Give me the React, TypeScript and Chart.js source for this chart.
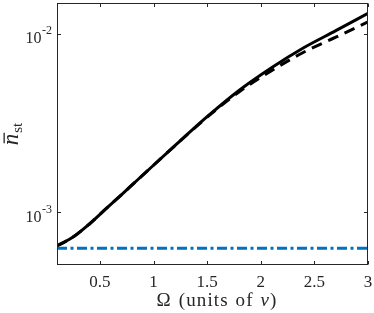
import React, { useEffect, useRef } from "react";
import { Chart, registerables } from "chart.js";

Chart.register(...registerables);

const omegaValues = [0.1, 0.25, 0.4, 0.55, 0.7, 0.85, 1.0, 1.2, 1.5, 1.8, 2.1, 2.4, 2.7, 3.0];
const solidSeries = [6.46e-4, 7.24e-4, 8.55e-4, 1.035e-3, 1.25e-3, 1.514e-3, 1.832e-3, 2.36e-3, 3.43e-3, 4.83e-3, 6.46e-3, 8.36e-3, 1.042e-2, 1.303e-2];
const dashedSeries = [6.46e-4, 7.24e-4, 8.55e-4, 1.035e-3, 1.25e-3, 1.514e-3, 1.832e-3, 2.36e-3, 3.41e-3, 4.74e-3, 6.21e-3, 7.89e-3, 9.58e-3, 1.167e-2];
const baselineOmega = [0.1, 3.0];
const baselineSeries = [6.28e-4, 6.28e-4];
const xTicks = [0.5, 1, 1.5, 2, 2.5, 3];
const xTickLabels = ["0.5", "1", "1.5", "2", "2.5", "3"];
const yTicks = [1e-3, 1e-2];
const yTickExponents = ["-3", "-2"];

const SERIF = "'Liberation Serif', 'Times New Roman', serif";
const AXIS_COLOR = "#262626";

const framePlugin = {
  id: "matlabFrame",
  afterDraw(chart: any) {
    const { ctx, chartArea } = chart;
    const xs = chart.scales.x;
    const ys = chart.scales.y;
    const L = Math.round(chartArea.left) + 0.5;
    const R = Math.round(chartArea.right) - 0.5;
    const T = Math.round(chartArea.top) + 0.5;
    const B = Math.round(chartArea.bottom) - 0.5;
    ctx.save();
    ctx.strokeStyle = AXIS_COLOR;
    ctx.lineWidth = 1;
    ctx.setLineDash([]);
    ctx.strokeRect(L, T, R - L, B - T);
    const tl = 3.5;
    ctx.beginPath();
    xTicks.forEach((v) => {
      const px = Math.round(xs.getPixelForValue(v)) + 0.5;
      ctx.moveTo(px, B);
      ctx.lineTo(px, B - tl);
      ctx.moveTo(px, T);
      ctx.lineTo(px, T + tl);
    });
    yTicks.forEach((v) => {
      const py = Math.round(ys.getPixelForValue(v)) + 0.5;
      ctx.moveTo(L, py);
      ctx.lineTo(L + tl, py);
      ctx.moveTo(R, py);
      ctx.lineTo(R - tl, py);
    });
    ctx.stroke();

    ctx.fillStyle = AXIS_COLOR;
    // x tick labels
    ctx.font = `17px ${SERIF}`;
    ctx.textAlign = "center";
    ctx.textBaseline = "alphabetic";
    xTicks.forEach((v, i) => {
      const px = xs.getPixelForValue(v);
      ctx.fillText(xTickLabels[i], px, chartArea.bottom + 22);
    });
    // y tick labels 10^e
    yTicks.forEach((v, i) => {
      const py = ys.getPixelForValue(v);
      ctx.font = `16px ${SERIF}`;
      ctx.textAlign = "right";
      ctx.fillText("10", 41.5, py + 9.5);
      ctx.font = `12px ${SERIF}`;
      ctx.textAlign = "left";
      ctx.fillText(yTickExponents[i], 42, py + 0.5);
    });

    // x axis label: Ω (units of ν)
    const cx = (chartArea.left + chartArea.right) / 2 + 4;
    const by = 306;
    const parts = [
      { t: "Ω", f: `19px ${SERIF}` },
      { t: " (units of ", f: `19px ${SERIF}` },
      { t: "ν", f: `italic 19px ${SERIF}` },
      { t: ")", f: `19px ${SERIF}` },
    ];
    const spacing = 1.1;
    let total = 0;
    const widths: number[] = [];
    parts.forEach((p) => {
      ctx.font = p.f;
      let w = 0;
      for (const ch of p.t) w += ctx.measureText(ch).width + (ch === " " ? spacing * 2 : spacing);
      widths.push(w);
      total += w;
    });
    total -= spacing;
    let x = cx - total / 2;
    ctx.textAlign = "left";
    parts.forEach((p, i) => {
      ctx.font = p.f;
      let xx = x;
      for (const ch of p.t) {
        ctx.fillText(ch, xx, by);
        xx += ctx.measureText(ch).width + (ch === " " ? spacing * 2 : spacing);
      }
      x += widths[i];
    });

    // y axis label: n̄_st rotated
    ctx.save();
    const midY = (chartArea.top + chartArea.bottom) / 2;
    ctx.translate(17.5, midY);
    ctx.rotate(-Math.PI / 2);
    ctx.font = `italic 23px ${SERIF}`;
    const nW = ctx.measureText("n").width;
    ctx.font = `15px ${SERIF}`;
    const stW = ctx.measureText("st").width;
    const totalW = nW + 1 + stW;
    const sx = -totalW / 2;
    ctx.font = `italic 23px ${SERIF}`;
    ctx.textAlign = "left";
    ctx.fillText("n", sx, 0);
    ctx.fillRect(sx + 2, -14, nW - 1, 1.3);
    ctx.font = `15px ${SERIF}`;
    ctx.fillText("st", sx + nW + 1, 4);
    ctx.restore();

    ctx.restore();
  },
};

export default function App() {
  const ref = useRef<HTMLCanvasElement | null>(null);
  useEffect(() => {
    if (!ref.current) return;
    const toPts = (xs: number[], ys: number[]) => xs.map((x, i) => ({ x, y: ys[i] }));
    const chart = new Chart(ref.current, {
      type: "line",
      data: {
        datasets: [
          {
            data: toPts(baselineOmega, baselineSeries),
            borderColor: "#0072BD",
            borderWidth: 3,
            borderDash: [10, 3.5, 3, 3.5],
            pointRadius: 0,
          },
          {
            data: toPts(omegaValues, dashedSeries),
            borderColor: "#000000",
            borderWidth: 3,
            borderDash: [11, 7],
            pointRadius: 0,
            cubicInterpolationMode: "monotone",
          },
          {
            data: toPts(omegaValues, solidSeries),
            borderColor: "#000000",
            borderWidth: 3,
            pointRadius: 0,
            cubicInterpolationMode: "monotone",
          },
        ],
      },
      options: {
        animation: false,
        responsive: false,
        maintainAspectRatio: false,
        devicePixelRatio: 1,
        layout: { padding: { left: 57, right: 6, top: 3, bottom: 48 } },
        plugins: { legend: { display: false }, tooltip: { enabled: false } },
        scales: {
          x: { type: "linear", min: 0.1, max: 3, display: false },
          y: { type: "logarithmic", min: 5.05e-4, max: 0.0149, display: false },
        },
      },
      plugins: [framePlugin],
    });
    return () => chart.destroy();
  }, []);
  return (
    <div style={{ position: "fixed", left: 0, top: 0, width: 374, height: 313, background: "#fff" }}>
      <canvas ref={ref} width={374} height={313} style={{ display: "block" }} />
    </div>
  );
}
